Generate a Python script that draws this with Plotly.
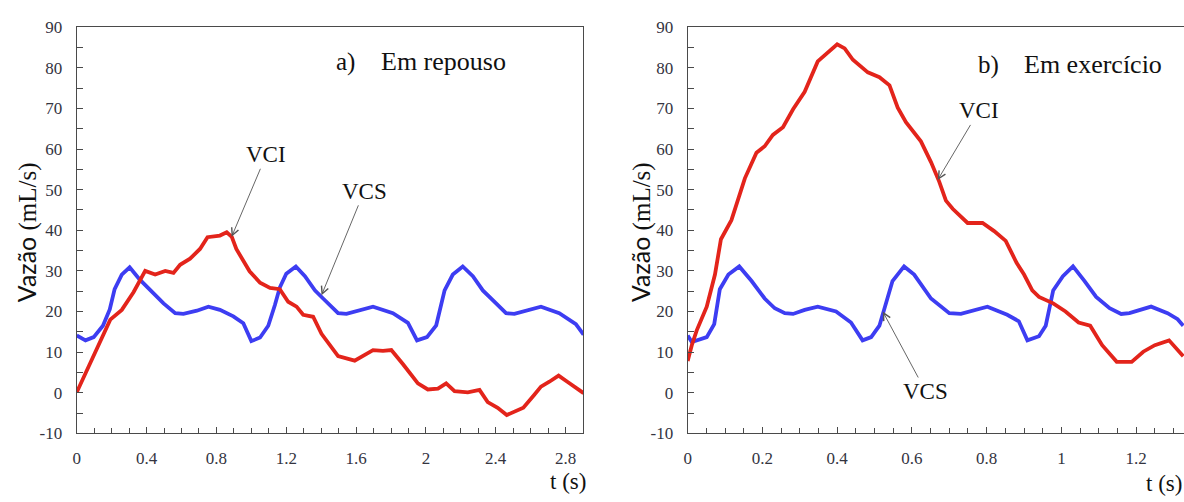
import plotly.graph_objects as go
from plotly.subplots import make_subplots

# ---------------- data ----------------
# a) Em repouso
t_rep_vcs = [0, 0.05, 0.097, 0.15, 0.189, 0.217, 0.258, 0.303, 0.36, 0.43,
             0.497, 0.564, 0.611, 0.688, 0.754, 0.82, 0.897, 0.954, 1.0, 1.05,
             1.097, 1.135, 1.163, 1.2, 1.255, 1.307, 1.364, 1.411, 1.497, 1.545,
             1.697, 1.811, 1.897, 1.949, 2.006, 2.059, 2.107, 2.154, 2.211, 2.269,
             2.326, 2.402, 2.459, 2.507, 2.659, 2.764, 2.859, 2.903]
v_rep_vcs = [14.1, 12.9, 13.7, 16.5, 20.5, 25.5, 29.1, 30.9, 27.9, 24.8,
             22.0, 19.6, 19.4, 20.2, 21.2, 20.4, 18.8, 17.1, 12.7, 13.6,
             16.5, 21.6, 25.9, 29.3, 31.1, 28.7, 25.2, 23.2, 19.6, 19.4,
             21.2, 19.6, 17.2, 12.9, 13.7, 16.6, 25.2, 29.1, 31.1, 28.7,
             25.2, 22.0, 19.6, 19.4, 21.2, 19.6, 16.9, 14.3]

t_rep_vci = [0, 0.097, 0.192, 0.258, 0.326, 0.392, 0.449, 0.507, 0.554, 0.592,
             0.649, 0.706, 0.749, 0.82, 0.859, 0.888, 0.914, 0.99, 1.05, 1.107,
             1.163, 1.211, 1.259, 1.297, 1.354, 1.402, 1.497, 1.592, 1.697, 1.754,
             1.802, 1.869, 1.954, 2.011, 2.069, 2.116, 2.164, 2.24, 2.307, 2.354,
             2.411, 2.463, 2.558, 2.621, 2.659, 2.707, 2.76, 2.81, 2.903]
v_rep_vci = [0.1, 9.4, 18.0, 20.4, 24.8, 30.0, 29.1, 30.0, 29.5, 31.5,
             33.0, 35.4, 38.3, 38.7, 39.5, 38.4, 35.4, 29.9, 27.1, 25.8,
             25.5, 22.4, 21.2, 19.2, 18.7, 14.5, 9.0, 7.9, 10.5, 10.3,
             10.5, 7.0, 2.3, 0.8, 1.0, 2.3, 0.4, 0.1, 0.7, -2.3,
             -3.7, -5.5, -3.7, -0.5, 1.5, 2.7, 4.2, 2.7, -0.1]

# b) Em exercício
t_exe_vci = [0, 0.011, 0.024, 0.051, 0.073, 0.089, 0.117, 0.135, 0.153, 0.184,
             0.206, 0.228, 0.255, 0.282, 0.313, 0.348, 0.371, 0.4, 0.42, 0.442,
             0.482, 0.513, 0.54, 0.562, 0.584, 0.624, 0.651, 0.673, 0.691, 0.709,
             0.749, 0.789, 0.82, 0.851, 0.88, 0.9, 0.922, 0.94, 0.978, 1.011,
             1.046, 1.077, 1.109, 1.148, 1.188, 1.219, 1.25, 1.288, 1.326]
v_exe_vci = [7.8, 11.7, 15.3, 21.2, 29.1, 37.8, 42.5, 47.3, 52.8, 59.1,
             60.7, 63.5, 65.4, 69.8, 74.1, 81.6, 83.6, 85.8, 84.8, 82.0,
             78.9, 77.7, 75.7, 70.2, 66.6, 61.9, 56.8, 52.0, 47.3, 45.3,
             41.8, 41.8, 39.8, 37.4, 32.0, 29.1, 25.2, 23.6, 22.0, 20.0,
             17.3, 16.5, 11.7, 7.6, 7.6, 10.1, 11.7, 12.9, 9.0]

t_exe_vcs = [0, 0.011, 0.051, 0.071, 0.086, 0.109, 0.138, 0.171, 0.206, 0.233,
             0.26, 0.282, 0.313, 0.348, 0.397, 0.437, 0.468, 0.491, 0.513, 0.524,
             0.548, 0.579, 0.606, 0.651, 0.7, 0.731, 0.802, 0.855, 0.886, 0.909,
             0.94, 0.958, 0.978, 1.004, 1.031, 1.062, 1.093, 1.129, 1.16, 1.182,
             1.24, 1.284, 1.311, 1.326]
v_exe_vcs = [14.1, 12.5, 13.7, 16.9, 25.5, 29.1, 31.1, 27.5, 23.2, 20.8,
             19.6, 19.4, 20.4, 21.2, 20.0, 17.3, 12.9, 13.7, 16.5, 20.0,
             27.5, 31.1, 29.1, 23.2, 19.6, 19.4, 21.2, 19.2, 17.6, 12.9,
             13.9, 16.5, 25.2, 28.7, 31.1, 27.5, 23.6, 20.8, 19.4, 19.6,
             21.2, 19.6, 18.1, 16.5]

y_ticks = [-10, 0, 10, 20, 30, 40, 50, 60, 70, 80, 90]
y_ticktext = ["-10", "0", "10", "20", "30", "40", "50", "60", "70", "80", "90"]
x_ticks_a = [0, 0.4, 0.8, 1.2, 1.6, 2, 2.4, 2.8]
x_ticks_b = [0, 0.2, 0.4, 0.6, 0.8, 1, 1.2]

# ---------------- style ----------------
RED = "#e3241b"
BLUE = "#3d3df2"
AXC = "#4a4a4a"
TICKF = dict(family="Liberation Serif", size=17, color="#34343f")
LBLF = dict(family="Liberation Serif", size=23, color="#111111")
W, H = 1184, 502

fig = make_subplots(rows=1, cols=2)

fig.add_trace(go.Scatter(x=t_rep_vcs, y=v_rep_vcs, mode="lines",
                         line=dict(color=BLUE, width=3.8), showlegend=False), 1, 1)
fig.add_trace(go.Scatter(x=t_rep_vci, y=v_rep_vci, mode="lines",
                         line=dict(color=RED, width=3.8), showlegend=False), 1, 1)
fig.add_trace(go.Scatter(x=t_exe_vcs, y=v_exe_vcs, mode="lines",
                         line=dict(color=BLUE, width=3.8), showlegend=False), 1, 2)
fig.add_trace(go.Scatter(x=t_exe_vci, y=v_exe_vci, mode="lines",
                         line=dict(color=RED, width=3.8), showlegend=False), 1, 2)

ydom = [(H - 441) / H, (H - 19) / H]

fig.update_xaxes(showgrid=False, zeroline=False, showline=True, linecolor=AXC,
                 linewidth=1.2, ticks="inside", ticklen=6, tickcolor=AXC,
                 tickfont=TICKF, ticklabelstandoff=9)
fig.update_yaxes(showgrid=False, zeroline=False, showline=True, linecolor=AXC,
                 linewidth=1.2, ticks="inside", ticklen=6, tickcolor=AXC,
                 tickfont=TICKF, range=[-10, 90], tickvals=y_ticks,
                 ticktext=y_ticktext, ticklabelstandoff=10,
                 minor=dict(dtick=5, ticks="inside", ticklen=6, tickcolor=AXC),
                 domain=ydom)

fig.update_xaxes(row=1, col=1, domain=[73 / W, 581 / W], range=[0, 2.9],
                 tickvals=x_ticks_a, ticktext=[str(v) for v in x_ticks_a],
                 minor=dict(dtick=0.1, tick0=0, ticks="inside", ticklen=5, tickcolor=AXC),
                 mirror=True)
fig.update_yaxes(row=1, col=1, mirror=True)
fig.update_xaxes(row=1, col=2, domain=[686 / W, 1.0], range=[0, 1.328],
                 tickvals=x_ticks_b, ticktext=[str(v) for v in x_ticks_b],
                 minor=dict(dtick=0.05, tick0=0, ticks="inside", ticklen=5, tickcolor=AXC),
                 mirror=True)
fig.update_yaxes(row=1, col=2, mirror=False)

annots = []


def arrow_label(text, xref, yref, tip, txt):
    annots.append(dict(text=text, x=tip[0], y=tip[1], ax=txt[0], ay=txt[1],
                       xref=xref, yref=yref, axref=xref, ayref=yref,
                       showarrow=True, arrowhead=5, arrowsize=1.6, arrowwidth=0.9,
                       arrowcolor="#555555", standoff=0, startstandoff=0,
                       font=LBLF))


arrow_label("VCI", "x", "y", (0.887, 38.4), (1.086, 58.6))
arrow_label("VCS", "x", "y", (1.402, 24.0), (1.646, 49.6))
arrow_label("VCI", "x2", "y2", (0.669, 52.4), (0.779, 69.4))
arrow_label("VCS", "x2", "y2", (0.522, 20.0), (0.637, 0.3))


def ptext(text, px, py, xanchor="left", size=23, angle=0, family="Liberation Serif"):
    annots.append(dict(text=text, x=px / W, y=(H - py) / H, xref="paper", yref="paper",
                       xanchor=xanchor, yanchor="middle", showarrow=False,
                       textangle=angle,
                       font=dict(family=family, size=size, color="#111111")))


ptext("a)", 331, 55, size=25)
ptext("Em repouso", 376, 55, size=26)
ptext("b)", 975, 58, size=25)
ptext("Em exercício", 1021, 58, size=26)

ytitle = ('<span style="font-family:Lato">Vazão</span> '
          '<span style="font-family:Liberation Serif">(mL/s)</span>')
ptext(ytitle, 22, 232, xanchor="center", size=25, angle=-90)
ptext(ytitle, 638, 232, xanchor="center", size=25, angle=-90)
ptext("t (s)", 566, 491, xanchor="center", size=23)
ptext("t (s)", 1164, 493, xanchor="center", size=23)

fig.update_layout(width=W, height=H, margin=dict(l=0, r=0, t=0, b=0),
                  paper_bgcolor="white", plot_bgcolor="white",
                  annotations=annots)

fig.write_html("out.html")
